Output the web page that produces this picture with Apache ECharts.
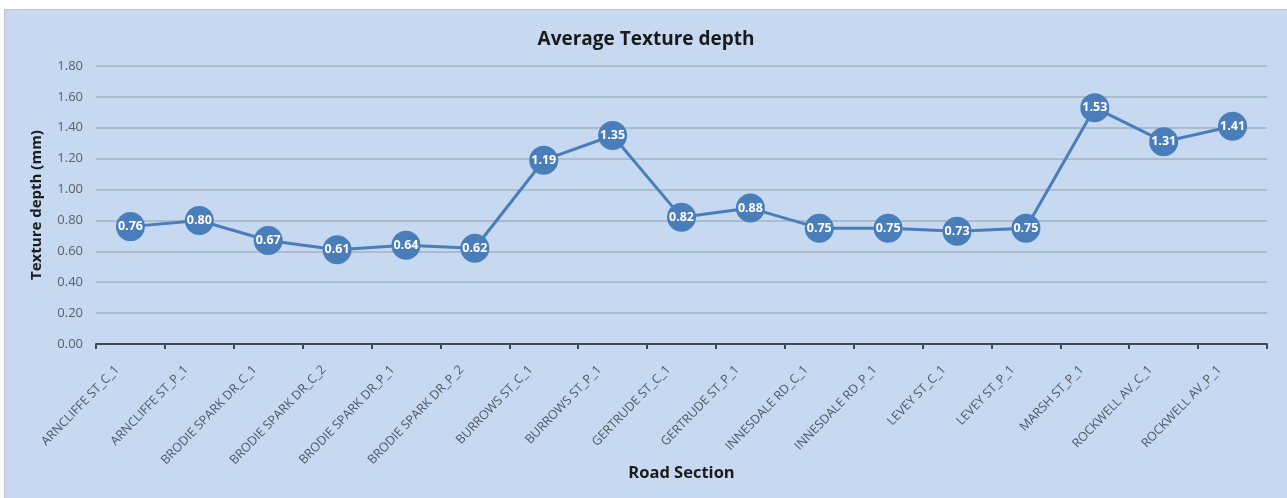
<!DOCTYPE html>
<html>
<head>
<meta charset="utf-8">
<script src="https://cdn.jsdelivr.net/npm/echarts@6/dist/echarts.min.js"></script>
<style>
html,body{margin:0;padding:0;background:#ffffff;width:1287px;height:498px;overflow:hidden;}
#frame{position:absolute;left:4px;top:9px;width:1283px;height:489px;background:#c6d9f1;border-top:1px solid #c3c6cc;border-left:1px solid #c3c6cc;box-sizing:border-box;}
#chart{position:absolute;left:0;top:0;width:1282px;height:488px;}
</style>
</head>
<body>
<div id="frame"><div id="chart"></div></div>
<script>
var categories = ["ARNCLIFFE ST_C_1","ARNCLIFFE ST_P_1","BRODIE SPARK DR_C_1","BRODIE SPARK DR_C_2","BRODIE SPARK DR_P_1","BRODIE SPARK DR_P_2","BURROWS ST_C_1","BURROWS ST_P_1","GERTRUDE ST_C_1","GERTRUDE ST_P_1","INNESDALE RD_C_1","INNESDALE RD_P_1","LEVEY ST_C_1","LEVEY ST_P_1","MARSH ST_P_1","ROCKWELL AV_C_1","ROCKWELL AV_P_1"];
var textureDepth = [0.76,0.80,0.67,0.61,0.64,0.62,1.19,1.35,0.82,0.88,0.75,0.75,0.73,0.75,1.53,1.31,1.41];
var yTicks = {min:0, max:1.8, interval:0.2};

var chart = echarts.init(document.getElementById('chart'));
var font = '"Open Sans", "Noto Sans", sans-serif';
chart.setOption({
  backgroundColor:'transparent',
  animation:false,
  title:{text:'Average Texture depth', left:'center', top:15,
    textStyle:{fontFamily:font, fontSize:19, fontWeight:'bold', color:'#1a1a1a'}},
  grid:{left:91, right:20, top:56, bottom:154, containLabel:false},
  xAxis:{type:'category', data:categories, boundaryGap:true,
    name:'Road Section', nameLocation:'middle', nameGap:121, nameMoveOverlap:false,
    nameTextStyle:{fontFamily:font, fontSize:16.5, fontWeight:'bold', color:'#1a1a1a'},
    axisLine:{lineStyle:{color:'#404a55', width:2}},
    axisTick:{show:true, alignWithLabel:false, length:5, lineStyle:{color:'#404a55', width:2}},
    axisLabel:{rotate:46, interval:0, fontFamily:font, fontSize:12.5, color:'#4f5864', margin:10,
      padding:[0,19,0,0]}
  },
  yAxis:{type:'value', min:yTicks.min, max:yTicks.max, interval:yTicks.interval,
    name:'Texture depth (mm)', nameLocation:'middle', nameGap:52, nameMoveOverlap:false,
    nameTextStyle:{fontFamily:font, fontSize:15, fontWeight:'bold', color:'#1a1a1a'},
    axisLine:{show:false}, axisTick:{show:false},
    axisLabel:{fontFamily:font, fontSize:13, color:'#5a6068', margin:13,
      formatter:function(v){return v.toFixed(2);}},
    splitLine:{lineStyle:{color:'#a3b1c2', width:1.5}}
  },
  series:[{
    type:'line', data:textureDepth,
    symbol:'circle', symbolSize:29,
    lineStyle:{color:'#4a7ebb', width:3},
    itemStyle:{color:'#4a7ebb'},
    label:{show:true, position:'inside', fontFamily:font, fontSize:12.5, fontWeight:'bold', color:'#ffffff',
      formatter:function(p){return p.value.toFixed(2);}}
  }]
});
</script>
</body>
</html>
